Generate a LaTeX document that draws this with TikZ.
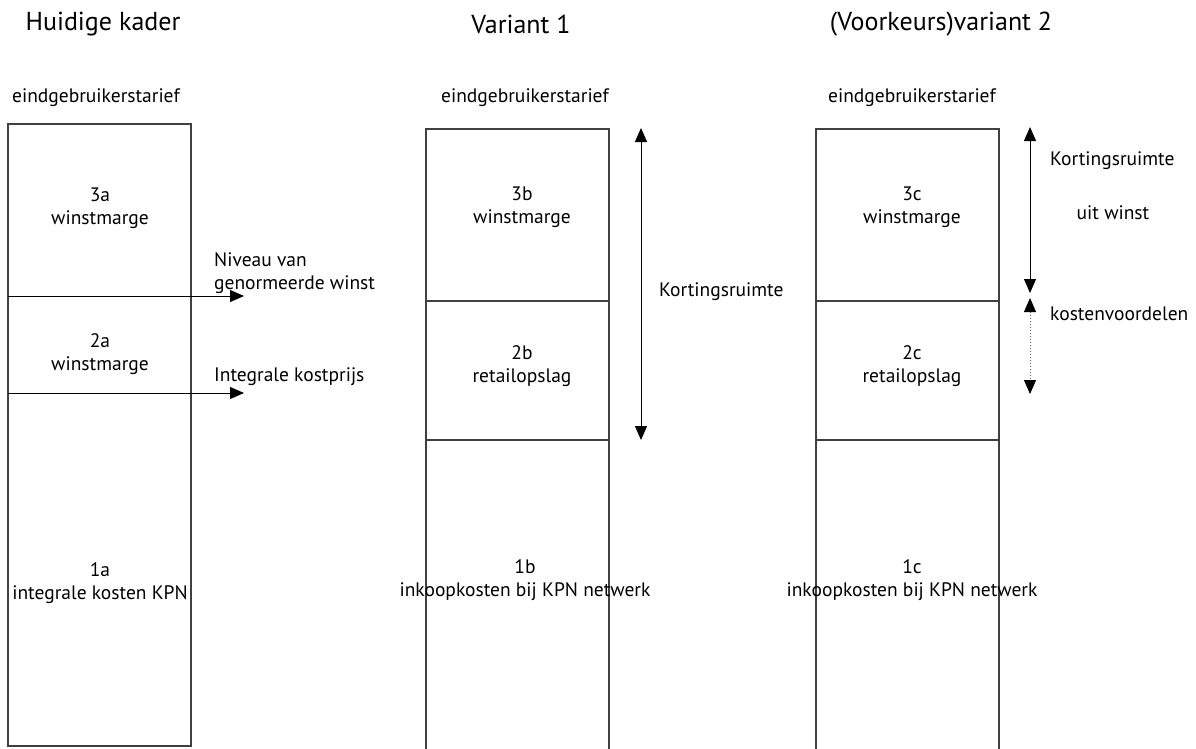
\documentclass[tikz,border=0pt]{standalone}
\usepackage{fontspec}
\setmainfont{PT Sans}
\usetikzlibrary{arrows.meta}
\begin{document}
\begin{tikzpicture}[x=1pt,y=-1pt,
  boxline/.style={line width=1.2pt,draw=black!75},
  lbl/.style={font=\fontsize{19.5}{23}\selectfont,align=center,inner sep=0pt},
  ttl/.style={font=\fontsize{26}{30}\selectfont,inner sep=0pt},
  arr/.style={line width=1pt,-{Triangle[length=14pt,width=12pt]}},
  darr/.style={line width=1pt,{Triangle[length=14pt,width=12pt,color=black]}-{Triangle[length=14pt,width=12pt,color=black]}},
  seg/.style={minimum width=183pt,inner sep=0pt,outer sep=0pt}]
\useasboundingbox (0,0) rectangle (1196,749);
% titles
\node[ttl] (t1) at (103,24) {Huidige kader};
\node[ttl] (t2) at (521,24) {Variant 1};
\node[ttl] (t3) at (941,24) {(Voorkeurs)variant 2};
\node[lbl] (e1) at (96,98) {eindgebruikerstarief};
\node[lbl] (e2) at (525,98) {eindgebruikerstarief};
\node[lbl] (e3) at (912,98) {eindgebruikerstarief};
% column a
\node[seg,minimum height=172pt] (a3) at (99.5,210) {};
\node[seg,minimum height=97pt] (a2) at (99.5,344.5) {};
\node[seg,minimum height=353pt] (a1) at (99.5,569.5) {};
\draw[boxline] (a3.north west) rectangle (a1.south east);
\node[lbl] at (100,208) {3a\\winstmarge};
\node[lbl] at (100,354) {2a\\winstmarge};
\node[lbl] at (100,583) {1a\\integrale kosten KPN};
\coordinate (n1) at (244,296);
\coordinate (n2) at (244,393);
\draw[arr] (a3.south west) -- (n1);
\draw[arr] (a2.south west) -- (n2);
\node[lbl,anchor=west,align=left] (niv) at (214,273) {Niveau van\\genormeerde winst};
\node[lbl,anchor=west] (ik) at (214,377) {Integrale kostprijs};
% column b
\node[seg,minimum height=172pt] (b3) at (517.5,215) {};
\node[seg,minimum height=139pt] (b2) at (517.5,370.5) {};
\node[seg,minimum height=309pt] (b1) at (517.5,594.5) {};
\draw[boxline] (b1.south west) -- (b3.north west) -- (b3.north east) -- (b1.south east);
\draw[boxline] (b3.south west) -- (b3.south east);
\draw[boxline] (b2.south west) -- (b2.south east);
\node[lbl] at (522,207) {3b\\winstmarge};
\node[lbl] at (522,366) {2b\\retailopslag};
\node[lbl] at (525,580) {1b\\inkoopkosten bij KPN netwerk};
\coordinate (k1t) at (641,128);
\coordinate (k1b) at (641,440);
\draw[darr] (k1t) -- (k1b);
\node[lbl,anchor=west] (kr1) at (659,292) {Kortingsruimte};
% column c
\node[seg,minimum height=172pt] (c3) at (907.5,215) {};
\node[seg,minimum height=139pt] (c2) at (907.5,370.5) {};
\node[seg,minimum height=309pt] (c1) at (907.5,594.5) {};
\draw[boxline] (c1.south west) -- (c3.north west) -- (c3.north east) -- (c1.south east);
\draw[boxline] (c3.south west) -- (c3.south east);
\draw[boxline] (c2.south west) -- (c2.south east);
\node[lbl] at (912,207) {3c\\winstmarge};
\node[lbl] at (912,366) {2c\\retailopslag};
\node[lbl] at (912,580) {1c\\inkoopkosten bij KPN netwerk};
\coordinate (k2t) at (1030,127);
\coordinate (k2b) at (1030,293);
\coordinate (k3t) at (1030,298);
\coordinate (k3b) at (1030,394);
\draw[darr] (k2t) -- (k2b);
\draw[darr,dotted,line width=0.8pt,draw=black!60] (k3t) -- (k3b);
\node[lbl,anchor=west] (kr2) at (1050,161) {Kortingsruimte};
\node[lbl] (uw) at (1113,213) {uit winst};
\node[lbl,anchor=west] (kv) at (1050,314) {kostenvoordelen};
\end{tikzpicture}
\end{document}
